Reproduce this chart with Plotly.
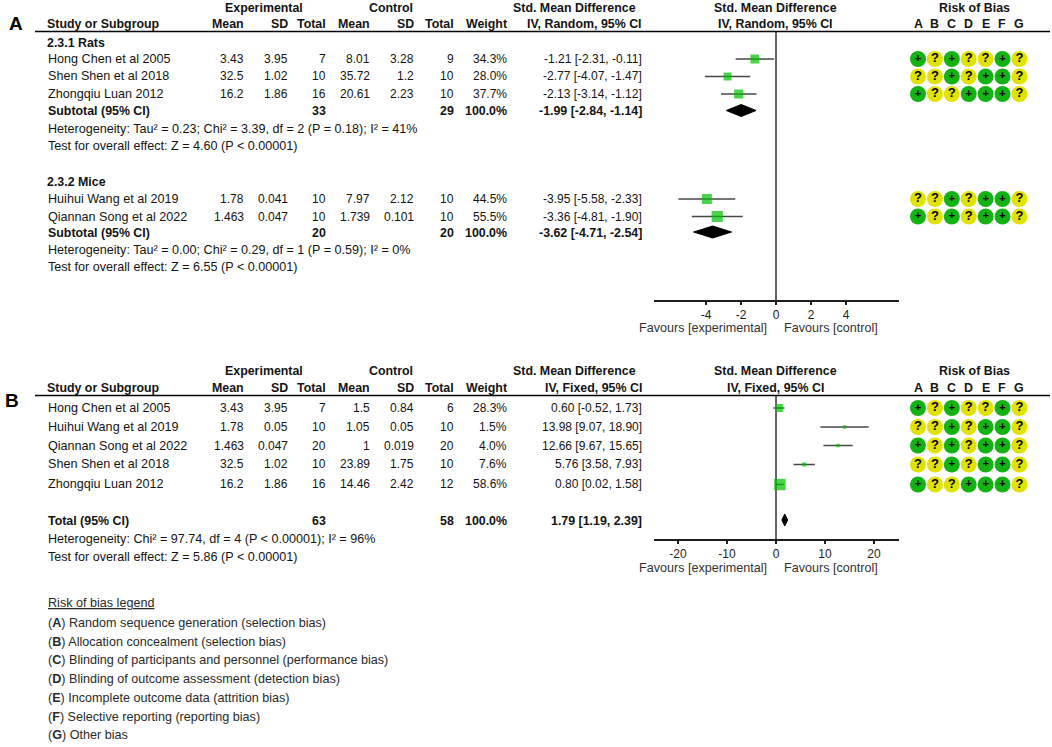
import math
import plotly.graph_objects as go

W, H = 1052, 747
FONT = "Liberation Sans, Arial, sans-serif"
INK = "#141414"
GREY = "#333333"
GREEN = "#00c000"
ROB_GREEN = "#12b312"
ROB_YELLOW = "#e2e200"

# ---- panel A: subgroup analysis (IV, Random) ----
rats_study = ["Hong Chen et al 2005", "Shen Shen et al 2018", "Zhongqiu Luan 2012"]
rats_exp_mean = [3.43, 32.5, 16.2]
rats_exp_sd = [3.95, 1.02, 1.86]
rats_exp_n = [7, 10, 16]
rats_ctl_mean = [8.01, 35.72, 20.61]
rats_ctl_sd = [3.28, 1.2, 2.23]
rats_ctl_n = [9, 10, 10]
rats_weight = [34.3, 28.0, 37.7]
rats_smd = [-1.21, -2.77, -2.13]
rats_lo = [-2.31, -4.07, -3.14]
rats_hi = [-0.11, -1.47, -1.12]
rats_rob = ["+?+??+?", "??+?++?", "+??+++?"]
rats_sub = [-1.99, -2.84, -1.14]
rats_sub_n = [33, 29]
rats_het = "Heterogeneity: Tau² = 0.23; Chi² = 3.39, df = 2 (P = 0.18); I² = 41%"
rats_test = "Test for overall effect: Z = 4.60 (P < 0.00001)"

mice_study = ["Huihui Wang et al 2019", "Qiannan Song et al 2022"]
mice_exp_mean = [1.78, 1.463]
mice_exp_sd = [0.041, 0.047]
mice_exp_n = [10, 10]
mice_ctl_mean = [7.97, 1.739]
mice_ctl_sd = [2.12, 0.101]
mice_ctl_n = [10, 10]
mice_weight = [44.5, 55.5]
mice_smd = [-3.95, -3.36]
mice_lo = [-5.58, -4.81]
mice_hi = [-2.33, -1.90]
mice_rob = ["??+?++?", "+?+?++?"]
mice_sub = [-3.62, -4.71, -2.54]
mice_sub_n = [20, 20]
mice_het = "Heterogeneity: Tau² = 0.00; Chi² = 0.29, df = 1 (P = 0.59); I² = 0%"
mice_test = "Test for overall effect: Z = 6.55 (P < 0.00001)"

# ---- panel B: pooled analysis (IV, Fixed) ----
b_study = ["Hong Chen et al 2005", "Huihui Wang et al 2019", "Qiannan Song et al 2022",
           "Shen Shen et al 2018", "Zhongqiu Luan 2012"]
b_exp_mean = [3.43, 1.78, 1.463, 32.5, 16.2]
b_exp_sd = [3.95, 0.05, 0.047, 1.02, 1.86]
b_exp_n = [7, 10, 20, 10, 16]
b_ctl_mean = [1.5, 1.05, 1, 23.89, 14.46]
b_ctl_sd = [0.84, 0.05, 0.019, 1.75, 2.42]
b_ctl_n = [6, 10, 20, 10, 12]
b_weight = [28.3, 1.5, 4.0, 7.6, 58.6]
b_smd = [0.60, 13.98, 12.66, 5.76, 0.80]
b_lo = [-0.52, 9.07, 9.67, 3.58, 0.02]
b_hi = [1.73, 18.90, 15.65, 7.93, 1.58]
b_rob = ["+?+??+?", "??+?++?", "+?+?++?", "??+?++?", "+??+++?"]
b_total = [1.79, 1.19, 2.39]
b_total_n = [63, 58]
b_het = "Heterogeneity: Chi² = 97.74, df = 4 (P < 0.00001); I² = 96%"
b_test = "Test for overall effect: Z = 5.86 (P < 0.00001)"

a_ticks = [-4, -2, 0, 2, 4]
b_ticks = [-20, -10, 0, 10, 20]

rob_letters = ["A", "B", "C", "D", "E", "F", "G"]
rob_legend = [
    "Random sequence generation (selection bias)",
    "Allocation concealment (selection bias)",
    "Blinding of participants and personnel (performance bias)",
    "Blinding of outcome assessment (detection bias)",
    "Incomplete outcome data (attrition bias)",
    "Selective reporting (reporting bias)",
    "Other bias",
]

# column right edges (px)
COL = dict(label=46, exp_mean=245.5, exp_sd=289.5, exp_n=327.5, ctl_mean=371.5,
           ctl_sd=415.5, ctl_n=455.5, weight=508.5, smd=643.5)
ROB_X0, ROB_DX = 918, 16.9
PLOT_L, PLOT_R, ZERO_X = 653.5, 898.5, 776
TXT, NUM, BOLD = 12.6, 12, 12.4


def fx(x):
    return x / W


def fy(y):
    return 1 - y / H


ann = []
shapes = []


def txt(x, y, s, anchor="right", bold=False, size=None, color=INK):
    if size is None:
        size = BOLD if bold else TXT
    ann.append(dict(x=fx(x), y=fy(y), xref="paper", yref="paper",
                    text=f"<b>{s}</b>" if bold else s, showarrow=False,
                    xanchor=anchor, yanchor="middle",
                    font=dict(size=size, color=color, family=FONT)))


def fmt(v):
    return f"{v:g}"


def ci(e, lo, hi):
    return f"{e:.2f} [{lo:.2f}, {hi:.2f}]"


def header(y1, y2, method, letter, letter_xy):
    txt(letter_xy[0], letter_xy[1], letter, anchor="center", bold=True, size=19, color="black")
    txt(264, y1, "Experimental", anchor="center", bold=True)
    txt(391, y1, "Control", anchor="center", bold=True)
    txt(574.5, y1, "Std. Mean Difference", anchor="center", bold=True)
    txt(ZERO_X - 1, y1, "Std. Mean Difference", anchor="center", bold=True)
    txt(974, y1, "Risk of Bias", anchor="center", bold=True)
    txt(COL["label"] - 1, y2, "Study or Subgroup", anchor="left", bold=True)
    for key, s in [("exp_mean", "Mean"), ("exp_sd", "SD"), ("exp_n", "Total"),
                   ("ctl_mean", "Mean"), ("ctl_sd", "SD"), ("ctl_n", "Total"),
                   ("weight", "Weight"), ("smd", method)]:
        txt(COL[key], y2, s, bold=True)
    txt(ZERO_X - 1, y2, method, anchor="center", bold=True)
    for j, L in enumerate(rob_letters):
        txt(ROB_X0 + ROB_DX * j, y2, L, anchor="center", bold=True)
    shapes.append(dict(type="line", xref="paper", yref="paper", x0=fx(35), x1=fx(1050),
                       y0=fy(y2 + 7.5), y1=fy(y2 + 7.5),
                       line=dict(color="black", width=1.5)))


def study_rows(rows, study, em, es, en, cm, cs, cn, w, e, lo, hi):
    for i, y in enumerate(rows):
        txt(COL["label"], y, study[i], anchor="left")
        txt(COL["exp_mean"], y, fmt(em[i]), size=NUM)
        txt(COL["exp_sd"], y, fmt(es[i]), size=NUM)
        txt(COL["exp_n"], y, fmt(en[i]), size=NUM)
        txt(COL["ctl_mean"], y, fmt(cm[i]), size=NUM)
        txt(COL["ctl_sd"], y, fmt(cs[i]), size=NUM)
        txt(COL["ctl_n"], y, fmt(cn[i]), size=NUM)
        txt(COL["weight"], y, f"{w[i]:.1f}%", size=NUM)
        txt(COL["smd"], y, ci(e[i], lo[i], hi[i]), size=NUM)


def summary_row(y, label, n, pooled):
    txt(COL["label"], y, label, anchor="left", bold=True)
    txt(COL["exp_n"], y, n[0], bold=True)
    txt(COL["ctl_n"], y, n[1], bold=True)
    txt(COL["weight"], y, "100.0%", bold=True)
    txt(COL["smd"], y, ci(*pooled), bold=True)


fig = go.Figure()


def forest(xa, ya, rows, e, lo, hi, w):
    fig.add_trace(go.Scatter(
        x=e, y=rows, mode="markers", xaxis=xa, yaxis=ya, hoverinfo="skip",
        marker=dict(symbol="square", color=GREEN,
                    size=[max(3.5, 1.5 * math.sqrt(v)) for v in w], line=dict(width=0)),
        error_x=dict(type="data", symmetric=False,
                     array=[h - m for h, m in zip(hi, e)],
                     arrayminus=[m - l for m, l in zip(e, lo)],
                     width=0, thickness=1.5, color="#474747"),
    ))


def diamond(xa, ya, y, pooled, half=6):
    est, lo, hi = pooled
    fig.add_trace(go.Scatter(
        x=[lo, est, hi, est, lo], y=[y, y - half, y, y + half, y],
        mode="lines", fill="toself", fillcolor="black", xaxis=xa, yaxis=ya,
        line=dict(color="black", width=1), hoverinfo="skip",
    ))


def rob(ya, rows, codes):
    xs, ys, cols, labels, sizes = [], [], [], [], []
    for y, c in zip(rows, codes):
        for j, ch in enumerate(c):
            xs.append(ROB_X0 + ROB_DX * j)
            ys.append(y)
            cols.append(ROB_GREEN if ch == "+" else ROB_YELLOW)
            labels.append(f"<b>{ch}</b>")
            sizes.append(11 if ch == "+" else 13)
    fig.add_trace(go.Scatter(
        x=xs, y=ys, mode="markers+text", xaxis="x3", yaxis=ya, hoverinfo="skip",
        marker=dict(symbol="circle", size=16, color=cols, line=dict(width=0)),
        text=labels, textposition="middle center",
        textfont=dict(size=sizes, color="black", family=FONT),
    ))


# ---- panel A layout rows (px) ----
header(8, 24, "IV, Random, 95% CI", "A", (16, 23))
rats_rows = [59, 76.5, 94]
mice_rows = [199, 216.5]
txt(COL["label"] - 1, 43, "2.3.1 Rats", anchor="left", bold=True)
study_rows(rats_rows, rats_study, rats_exp_mean, rats_exp_sd, rats_exp_n,
           rats_ctl_mean, rats_ctl_sd, rats_ctl_n, rats_weight, rats_smd, rats_lo, rats_hi)
summary_row(111, "Subtotal (95% CI)", rats_sub_n, rats_sub)
txt(COL["label"], 128.5, rats_het, anchor="left")
txt(COL["label"], 146, rats_test, anchor="left")
txt(COL["label"] - 1, 182, "2.3.2 Mice", anchor="left", bold=True)
study_rows(mice_rows, mice_study, mice_exp_mean, mice_exp_sd, mice_exp_n,
           mice_ctl_mean, mice_ctl_sd, mice_ctl_n, mice_weight, mice_smd, mice_lo, mice_hi)
summary_row(233, "Subtotal (95% CI)", mice_sub_n, mice_sub)
txt(COL["label"], 250, mice_het, anchor="left")
txt(COL["label"], 267, mice_test, anchor="left")

forest("x", "y", rats_rows, rats_smd, rats_lo, rats_hi, rats_weight)
forest("x", "y", mice_rows, mice_smd, mice_lo, mice_hi, mice_weight)
diamond("x", "y", 110.5, rats_sub)
diamond("x", "y", 232, mice_sub)
rob("y", rats_rows + mice_rows, rats_rob + mice_rob)
txt(ZERO_X - 7, 328, "Favours [experimental]", color=GREY)
txt(ZERO_X + 6, 328, "Favours [control]", anchor="left", color=GREY)

# ---- panel B layout rows (px) ----
header(371, 388, "IV, Fixed, 95% CI", "B", (12, 400))
b_rows = [408, 427, 445.5, 464.5, 484.5]
study_rows(b_rows, b_study, b_exp_mean, b_exp_sd, b_exp_n,
           b_ctl_mean, b_ctl_sd, b_ctl_n, b_weight, b_smd, b_lo, b_hi)
summary_row(521, "Total (95% CI)", b_total_n, b_total)
txt(COL["label"], 539, b_het, anchor="left")
txt(COL["label"], 557, b_test, anchor="left")
forest("x2", "y2", b_rows, b_smd, b_lo, b_hi, b_weight)
diamond("x2", "y2", 520, b_total)
rob("y2", b_rows, b_rob)
txt(ZERO_X - 7, 568, "Favours [experimental]", color=GREY)
txt(ZERO_X + 6, 568, "Favours [control]", anchor="left", color=GREY)

# ---- risk of bias legend ----
txt(COL["label"], 603, "<u>Risk of bias legend</u>", anchor="left", color="#2a2a2a")
for k, (L, s) in enumerate(zip(rob_letters, rob_legend)):
    txt(COL["label"], 623 + 18.7 * k, f"(<b>{L}</b>) {s}", anchor="left", color="#2a2a2a")

forest_axis = dict(showline=True, linecolor="#1e1e1e", linewidth=1.5, ticks="outside",
                   ticklen=3, tickwidth=1.5, tickcolor="#1e1e1e", showgrid=False,
                   zeroline=True, zerolinecolor="#666666", zerolinewidth=2,
                   tickfont=dict(size=12, color="#1e1e1e", family=FONT), fixedrange=True)
inner_ticks = dict(ticks="inside", ticklen=4, tickwidth=1.5, tickcolor="#1e1e1e",
                   showticklabels=False, showline=False, showgrid=False,
                   zeroline=False, fixedrange=True)

fa_dom = [fx(PLOT_L), fx(PLOT_R)]
fig.update_layout(
    width=W, height=H, margin=dict(l=0, r=0, t=0, b=0),
    paper_bgcolor="white", plot_bgcolor="rgba(0,0,0,0)", showlegend=False,
    font=dict(family=FONT, color=INK),
    xaxis=dict(domain=fa_dom, range=[-7, 7], anchor="y", tickvals=a_ticks,
               ticktext=[str(v) for v in a_ticks], **forest_axis),
    xaxis4=dict(domain=fa_dom, range=[-7, 7], anchor="y", overlaying="x",
                tickvals=a_ticks, **inner_ticks),
    yaxis=dict(domain=[fy(300), fy(32)], range=[300, 32], visible=False,
               fixedrange=True),
    xaxis2=dict(domain=fa_dom, range=[-25, 25], anchor="y2", tickvals=b_ticks,
                ticktext=[str(v) for v in b_ticks], **forest_axis),
    xaxis5=dict(domain=fa_dom, range=[-25, 25], anchor="y2", overlaying="x2",
                tickvals=b_ticks, **inner_ticks),
    yaxis2=dict(domain=[fy(539), fy(396)], range=[539, 396], visible=False,
                fixedrange=True),
    xaxis3=dict(domain=[0, 1], range=[0, W], visible=False, anchor="y", fixedrange=True),
    annotations=ann,
    shapes=shapes,
)

# the default page body has an 8 px margin; drop it so the figure fills the window
fig.write_html("out.html", config={"displayModeBar": False},
               post_script="document.body.style.margin = '0';")
